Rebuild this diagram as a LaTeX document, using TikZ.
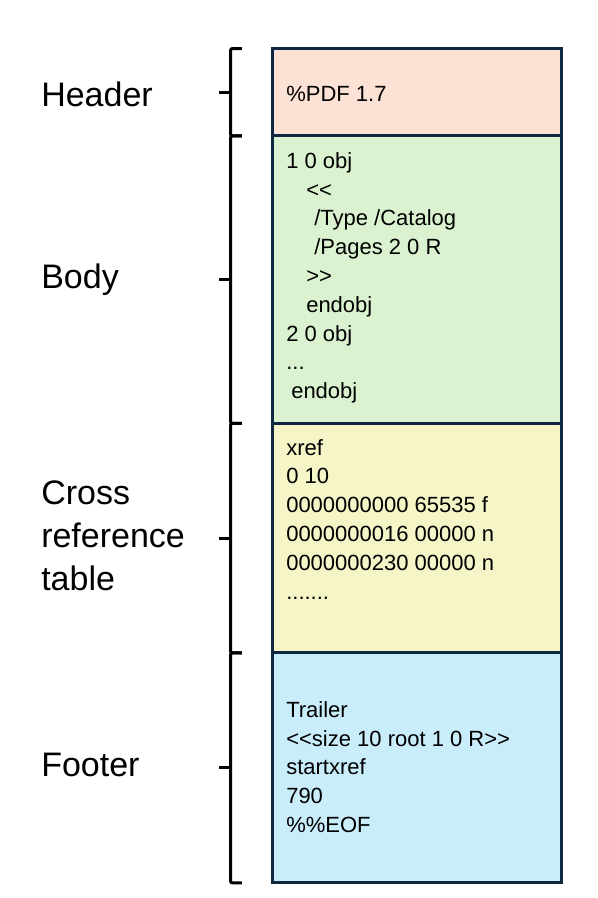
\documentclass[tikz,border=0pt]{standalone}
\usepackage{fontspec}
\setmainfont{Liberation Sans}
\usetikzlibrary{positioning}
\definecolor{hdrfill}{HTML}{FBE2D5}
\definecolor{bodyfill}{HTML}{DAF2D0}
\definecolor{xreffill}{HTML}{F5F5C8}
\definecolor{footfill}{HTML}{CAEDFB}
\definecolor{boxline}{HTML}{0E2841}
\newcommand\dlt{<\kern0pt<}
\newcommand\dgt{>\kern0pt>}
\begin{document}
\begin{tikzpicture}[x=0.75pt,y=-0.75pt,
sect/.style={draw=boxline,line width=2.25pt,inner sep=0pt,outer sep=0pt,minimum width=217.1pt},
code/.style={anchor=north west,align=left,inner sep=0pt,font=\fontsize{16.5}{21.6}\selectfont},
part/.style={anchor=west,align=left,inner sep=0pt,font=\fontsize{25.5}{32.25}\selectfont},
brc/.style={line width=2.25pt,rounded corners=1.5pt}]
\useasboundingbox (0,0) rectangle (597,898);
% the four parts of the file
\node[sect,fill=hdrfill,minimum height=65.6pt] (hdr) at (417.25,92.25) {};
\node[sect,fill=bodyfill,minimum height=215.6pt,below=0pt of hdr] (body) {};
\node[sect,fill=xreffill,minimum height=172.1pt,below=0pt of body] (xref) {};
\node[sect,fill=footfill,minimum height=172.5pt,below=0pt of xref] (foot) {};

\node[code,anchor=base west] (hdrtxt) at (286,101.5) {\%PDF 1.7};
\node[code] (bodytxt) at (286,152) {1 0 obj\\
\hspace*{15pt}\dlt\\
\hspace*{21pt}/Type /Catalog\\
\hspace*{21pt}/Pages 2 0 R\\
\hspace*{15pt}\dgt\\
\hspace*{15pt}endobj\\
2 0 obj\\
...\\
\hspace*{3.75pt}endobj};
\node[code] (xreftxt) at (286,439) {xref\\
0 10\\
0000000000 65535 f\\
0000000016 00000 n\\
0000000230 00000 n\\
.......};
\node[code] (foottxt) at (286,701) {Trailer\\
\dlt size 10 root 1 0 R\dgt\\
startxref\\
790\\
\%\%EOF};

% labels and braces
\node[part] (hdrlbl) at (41,94.5) {Header};
\node[part] (bodylbl) at (41,280) {Body};
\node[part] (xreflbl) at (41,536) {Cross\\reference\\table};
\node[part] (footlbl) at (41,765) {Footer};
\foreach \s in {hdr,body,xref,foot}{
  \draw[brc] ([xshift=-22.9pt]\s.north west) -| ([xshift=-31.5pt]\s.west)
    |- ([xshift=-22.9pt]\s.south west);
  \draw[line width=2.25pt] ([xshift=-31.5pt]\s.west) -- ++(-12,0);
}
\end{tikzpicture}
\end{document}
